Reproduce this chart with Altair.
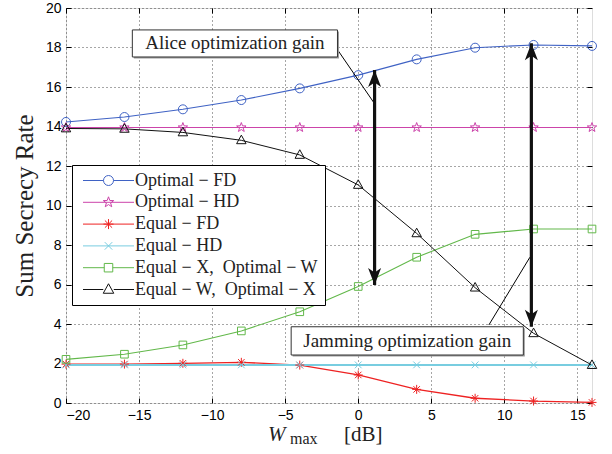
import math
import altair as alt
import pandas as pd

# ---------------- data ----------------
x_vals = [-20, -16, -12, -8, -4, 0, 4, 8, 12, 16]
opt_fd = [14.23, 14.48, 14.87, 15.34, 15.93, 16.60, 17.40, 17.99, 18.13, 18.08]
opt_hd = [13.95, 13.95, 13.95, 13.95, 13.95, 13.95, 13.95, 13.95, 13.95, 13.95]
eq_fd = [1.97, 1.97, 2.01, 2.06, 1.92, 1.42, 0.69, 0.24, 0.10, 0.03]
eq_hd = [1.93, 1.93, 1.93, 1.93, 1.93, 1.93, 1.93, 1.93, 1.93, 1.93]
eq_x_opt_w = [2.21, 2.47, 2.94, 3.65, 4.62, 5.90, 7.38, 8.54, 8.81, 8.81]
eq_w_opt_x = [13.90, 13.88, 13.70, 13.30, 12.56, 11.04, 8.59, 5.84, 3.53, 1.92]

series_names = [
    "Optimal − FD",
    "Optimal − HD",
    "Equal − FD",
    "Equal − HD",
    "Equal − X,\u00a0\u00a0Optimal − W",
    "Equal − W,\u00a0\u00a0Optimal − X",
]
series_values = [opt_fd, opt_hd, eq_fd, eq_hd, eq_x_opt_w, eq_w_opt_x]
series_colors = ["#3f62c4", "#cc44aa", "#ee2222", "#78cde0", "#62b84a", "#111111"]
series_widths = [1.1, 1.1, 1.3, 2.0, 1.1, 1.0]

x_ticks = [-20, -15, -10, -5, 0, 5, 10, 15]
y_ticks = [0, 2, 4, 6, 8, 10, 12, 14, 16, 18, 20]

# annotations
ann_text = ["Alice optimization gain", "Jamming optimization gain"]
ann_x1 = [-15.46, -4.59]
ann_x2 = [-1.42, 11.30]
ann_y1 = [17.52, 2.43]
ann_y2 = [18.89, 3.86]
lead_x1 = [-1.55, 8.94]
lead_y1 = [18.03, 3.95]
lead_x2 = [1.04, 11.75]
lead_y2 = [15.24, 7.38]
arrow_x = [1.12, 11.85]
arrow_top = [16.86, 18.21]
arrow_bot = [5.97, 3.86]

x_title_parts = ["W", "max", "[dB]"]

# ---------------- marker shapes (unit paths) ----------------
def fmt(v):
    return f"{v:.3f}"

circle = "M-1,0A1,1,0,1,1,1,0A1,1,0,1,1,-1,0Z"
star_pts = []
for k in range(10):
    a = math.radians(-90 + 36 * k)
    r = 1.1 if k % 2 == 0 else 0.45
    star_pts.append((r * math.cos(a), r * math.sin(a)))
star = "M" + "L".join(f"{fmt(px)},{fmt(py)}" for px, py in star_pts) + "Z"
asterisk = "M0,-1L0,1M-1,0L1,0M-0.72,-0.72L0.72,0.72M-0.72,0.72L0.72,-0.72"
xmark = "M-0.75,-0.75L0.75,0.75M-0.75,0.75L0.75,-0.75"
square = "M-0.85,-0.85L0.85,-0.85L0.85,0.85L-0.85,0.85Z"
triangle = "M0,-1.15L1.05,0.75L-1.05,0.75Z"
markers = [circle, star, asterisk, xmark, square, triangle]
gaps = [1.0, 0.0, 0.0, 0.0, 0.85, 1.05]
legend_paths = []
for m, g in zip(markers, gaps):
    if g > 0:
        ln = f"M-5.1,0L{fmt(-g)},0M{fmt(g)},0L5.1,0"
    else:
        ln = "M-5.1,0L5.1,0"
    legend_paths.append(ln + m)

arrow_up = "M0,0L1.3,3.4L0,2.5L-1.3,3.4Z"
arrow_down = "M0,0L1.3,-3.4L0,-2.5L-1.3,-3.4Z"

# ---------------- tables ----------------
rows = []
for name, vals, mk, w in zip(series_names, series_values, markers, series_widths):
    for xv, yv in zip(x_vals, vals):
        rows.append({"series": name, "x": xv, "y": yv, "mk": mk, "w": w})
df = pd.DataFrame(rows)

legend_df = pd.DataFrame({"series": series_names, "x": [0] * 6, "y": [-10] * 6})
ann_df = pd.DataFrame({"t": ann_text, "x1": ann_x1, "x2": ann_x2, "y1": ann_y1, "y2": ann_y2,
                       "xc": [(a + b) / 2 for a, b in zip(ann_x1, ann_x2)],
                       "yc": [(a + b) / 2 for a, b in zip(ann_y1, ann_y2)]})
lead_df = pd.DataFrame({"x1": lead_x1, "y1": lead_y1, "x2": lead_x2, "y2": lead_y2})
arrow_df = pd.DataFrame({"x": arrow_x, "top": arrow_top, "bot": arrow_bot})
heads_df = pd.DataFrame({
    "x": arrow_x + arrow_x,
    "y": arrow_top + arrow_bot,
    "shape": [arrow_up, arrow_up, arrow_down, arrow_down],
})

# ---------------- scales / axes ----------------
xs = alt.Scale(domain=[-20, 16], nice=False, zero=False)
ys = alt.Scale(domain=[0, 20], nice=False, zero=False)
cs = alt.Scale(domain=series_names, range=series_colors)

x_axis = alt.Axis(values=x_ticks, title=None, grid=True, domain=False, ticks=False,
                  labelFont="Liberation Sans", labelFontSize=14, labelColor="black",
                  labelPadding=5, labelOverlap=False, orient="bottom",
                  gridDash=[1, 3], gridColor="#000000", gridOpacity=0.7)
y_axis = alt.Axis(values=y_ticks, title="Sum Secrecy Rate", grid=True, domain=False, ticks=False,
                  labelFont="Liberation Sans", labelFontSize=14, labelColor="black",
                  labelPadding=5, labelOverlap=False, orient="left",
                  titleFont="Liberation Serif", titleFontSize=25, titleFontWeight="normal",
                  titleColor="#222222", titlePadding=8,
                  gridDash=[1, 3], gridColor="#000000", gridOpacity=0.7)


def tick_axis(values, orient):
    return alt.Axis(values=values, orient=orient, title=None, labels=False, grid=False,
                    domain=False, ticks=True, tickSize=5, offset=-5, tickColor="black",
                    tickWidth=1)


def X(field, axis=None):
    return alt.X(field, scale=xs, axis=axis)


def Y(field, axis=None):
    return alt.Y(field, scale=ys, axis=axis)


base = alt.Chart(df)

lines = base.mark_line().encode(
    x=X("x:Q", x_axis), y=Y("y:Q", y_axis),
    color=alt.Color("series:N", scale=cs, legend=None),
    strokeWidth=alt.StrokeWidth("w:Q", scale=None),
    detail="series:N",
)

points = base.mark_point(filled=False, size=81, strokeWidth=1, opacity=1).encode(
    x=X("x:Q"), y=Y("y:Q"),
    color=alt.Color("series:N", scale=cs, legend=None),
    shape=alt.Shape("mk:N", scale=None),
)

leg = alt.Legend(orient="none", legendX=6, legendY=157, title=None, fillColor="white",
                 strokeColor="black", padding=6.5, symbolOffset=21, labelOffset=17.5,
                 rowPadding=3.8, labelFont="Liberation Serif", labelFontSize=18,
                 labelColor="#222222", labelLimit=500, cornerRadius=0, symbolStrokeWidth=1)

legend_layer = alt.Chart(legend_df).mark_point(filled=False, size=81, strokeWidth=1,
                                               clip=True, opacity=1).encode(
    x=X("x:Q"), y=Y("y:Q"),
    color=alt.Color("series:N", scale=cs, legend=leg),
    shape=alt.Shape("series:N", scale=alt.Scale(domain=series_names, range=legend_paths), legend=leg),
)

shadow = alt.Chart(ann_df).mark_rect(fill="#9a9a9a", xOffset=1.5, x2Offset=1.5,
                                      yOffset=1.5, y2Offset=1.5).encode(
    x=X("x1:Q"), x2="x2:Q", y=Y("y1:Q"), y2="y2:Q")
boxes = alt.Chart(ann_df).mark_rect(fill="white", stroke="#333333", strokeWidth=1).encode(
    x=X("x1:Q"), x2="x2:Q", y=Y("y1:Q"), y2="y2:Q")
box_text = alt.Chart(ann_df).mark_text(font="Liberation Serif", fontSize=19, color="#222222",
                                       baseline="middle", align="center").encode(
    x=X("xc:Q"), y=Y("yc:Q"), text="t:N")
leaders = alt.Chart(lead_df).mark_rule(color="black", strokeWidth=1).encode(
    x=X("x1:Q", tick_axis(x_ticks, "bottom")), y=Y("y1:Q", tick_axis(y_ticks, "left")),
    x2="x2:Q", y2="y2:Q")
shafts = alt.Chart(arrow_df).mark_rule(color="#111111", strokeWidth=3.2).encode(
    x=X("x:Q"), y=Y("top:Q"), y2="bot:Q")
heads = alt.Chart(heads_df).mark_point(filled=True, size=100, color="#111111", opacity=1,
                                        strokeWidth=0).encode(
    x=X("x:Q", tick_axis(x_ticks, "top")), y=Y("y:Q", tick_axis(y_ticks, "right")),
    shape=alt.Shape("shape:N", scale=None))

title_df = pd.DataFrame({"t": x_title_parts})
t_w = alt.Chart(title_df[title_df.t == x_title_parts[0]]).mark_text(
    font="Liberation Serif", fontSize=21, fontStyle="italic", align="left",
    baseline="alphabetic", color="#222222").encode(x=alt.value(202), y=alt.value(433), text="t:N")
t_max = alt.Chart(title_df[title_df.t == x_title_parts[1]]).mark_text(
    font="Liberation Serif", fontSize=16, align="left", baseline="alphabetic",
    color="#222222").encode(x=alt.value(224), y=alt.value(436), text="t:N")
t_db = alt.Chart(title_df[title_df.t == x_title_parts[2]]).mark_text(
    font="Liberation Serif", fontSize=21, align="left", baseline="alphabetic",
    color="#222222").encode(x=alt.value(278), y=alt.value(433), text="t:N")

chart = alt.layer(
    lines, points, legend_layer, leaders, shadow, boxes, box_text, shafts, heads,
    t_w, t_max, t_db,
).resolve_scale(shape="independent", color="independent").resolve_axis(
    x="independent", y="independent"
).properties(
    width=526, height=395,
    autosize=alt.AutoSizeParams(type="none"),
    padding={"left": 66, "top": 8, "right": 20, "bottom": 51},
).configure_view(stroke="black", strokeWidth=1).configure(background="white")

chart.save("out.html", embed_options={"renderer": "svg", "actions": False})
